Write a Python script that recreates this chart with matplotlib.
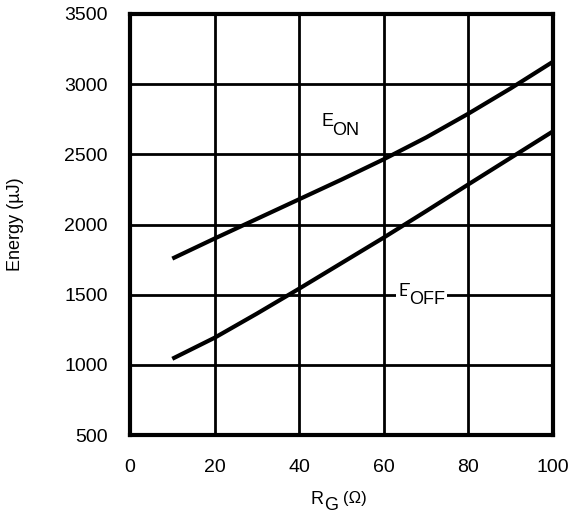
import matplotlib
matplotlib.use("Agg")
import matplotlib.pyplot as plt

plt.rcParams['font.family'] = ['Liberation Sans', 'DejaVu Sans']

rg = [10, 20, 30, 40, 50, 60, 70, 80, 90, 100]
e_on = [1757, 1900, 2040, 2180, 2320, 2465, 2620, 2790, 2970, 3160]
e_off = [1043, 1193, 1365, 1543, 1725, 1907, 2095, 2286, 2475, 2664]
x_ticks = [0, 20, 40, 60, 80, 100]
y_ticks = [500, 1000, 1500, 2000, 2500, 3000, 3500]

W, H = 571, 522
fig = plt.figure(figsize=(W/100, H/100), dpi=100)
ax = fig.add_axes([130/W, 1-435/H, 423/W, 421/H])

ax.plot(rg, e_on, color='black', lw=3, solid_capstyle='butt', zorder=3)
ax.plot(rg, e_off, color='black', lw=3, solid_capstyle='butt', zorder=3)

ax.set_xlim(0, 100)
ax.set_ylim(500, 3500)
ax.set_xticks(x_ticks)
ax.set_yticks(y_ticks)
ax.grid(True, color='black', lw=2)
ax.tick_params(length=0, labelsize=14)
ax.tick_params(axis='y', pad=16)
ax.tick_params(axis='x', pad=17)
for s in ax.spines.values():
    s.set_linewidth(3)


def sub_label(x, y, main, sub, size=13, drop=6, bg=False):
    kw = dict(fontsize=size, va='center', zorder=5)
    if bg:
        kw['bbox'] = dict(facecolor='white', edgecolor='none', pad=1.5)
    ax.text(x, y, main, ha='right', **kw)
    ax.annotate(sub, xy=(x, y), xytext=(-0.5, -drop), textcoords='offset points',
                ha='left', **kw)


sub_label(48.0, 2732, 'E', 'ON', drop=6.5)
sub_label(66.2, 1521, 'E', 'OFF', drop=5.5, bg=True)

# axis labels
fig.text(324/W, 1-500/H, 'R', fontsize=13, ha='right', va='center')
fig.text(324/W, 1-505/H, 'G', fontsize=13, ha='left', va='center')
fig.text(343/W, 1-499/H, '(Ω)', fontsize=12, ha='left', va='center')
fig.text(16/W, 1-224/H, 'Energy (µJ)', fontsize=13, rotation=90,
         ha='center', va='center')

fig.savefig('out.png', dpi=100)
